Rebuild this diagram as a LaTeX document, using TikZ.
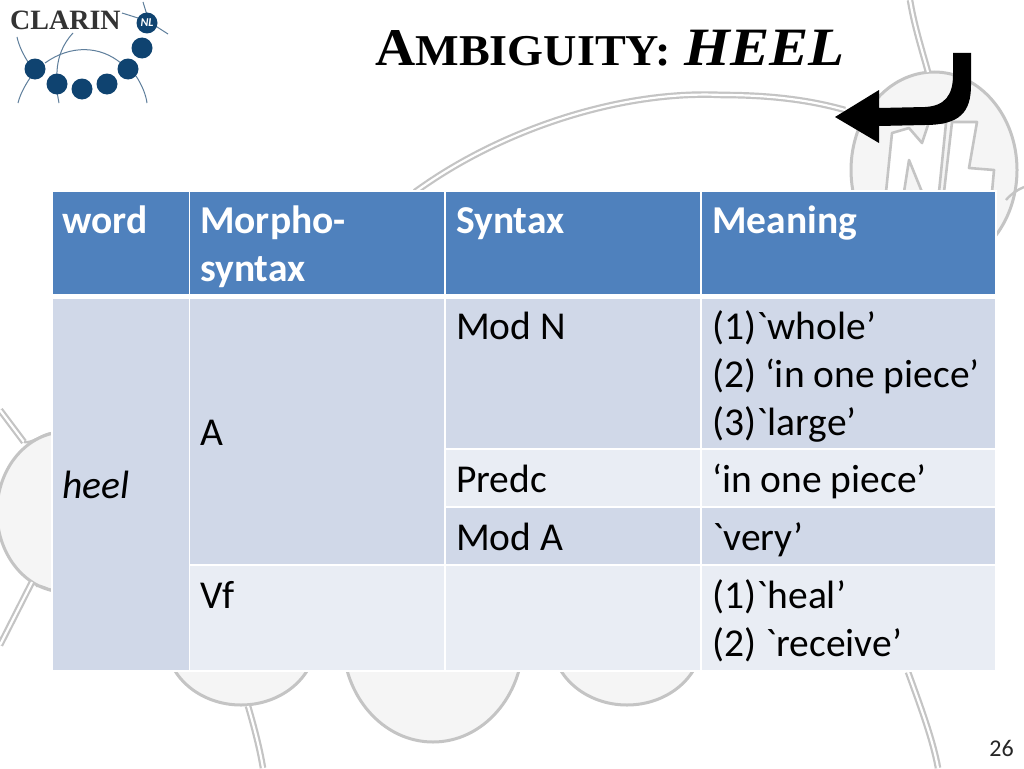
\documentclass[tikz,border=0pt]{standalone}
\usepackage{fontspec}
\newfontfamily\cellfont{Carlito}
\newfontfamily\titlefont{Liberation Serif}
\definecolor{hdr}{HTML}{4F81BD}
\definecolor{rowa}{HTML}{D0D8E8}
\definecolor{rowb}{HTML}{E9EDF4}
\definecolor{bgline}{HTML}{C4C4C4}
\definecolor{bgfill}{HTML}{F5F5F5}
\definecolor{logo}{HTML}{0F4370}
\definecolor{logoline}{HTML}{5F7F9C}
\tikzset{
 cellbox/.style={draw=white,line width=1.2pt},
 celltext/.style={anchor=base west,inner sep=0pt,font=\cellfont\fontsize{39.5}{48}\selectfont,align=left},
 headtext/.style={celltext,text=white,font=\cellfont\fontsize{39.5}{48}\selectfont\bfseries},
 bgwire/.style={draw=bgline,line width=7pt,double=white,double distance=2.2pt},
 bgthin/.style={draw=bgline,line width=2.4pt},
 bgball/.style={draw=bgline,line width=3pt,fill=bgfill},
 nlglyph/.style={draw=bgline,line width=2.6pt,fill=white,line join=round},
 bead/.style={circle,fill=logo,inner sep=0pt,minimum size=21pt},
 lwire/.style={draw=logoline,line width=1pt}
}
\begin{document}
\begin{tikzpicture}[x=1pt,y=-1pt]
\useasboundingbox (0,0) rectangle (1024,768);
\fill[white] (0,0) rectangle (1024,768);
% background
\draw[bgball] (934,170) ellipse (83 and 98);
\draw[bgwire,line width=2.2pt] (910,0) .. controls (914,25) and (922,50) .. (928,72);
\draw[bgwire,line width=2.2pt] (415,192) .. controls (500,130) and (620,90) .. (722,95) .. controls (770,95) and (810,100) .. (845,110);
\draw[nlglyph] (886,192) -- (892,133) -- (909,128) -- (922,143) -- (929,122) -- (946,123) -- (939,192) -- (922,192) -- (909,160) -- (904,192) -- cycle;
\draw[nlglyph] (952,122) -- (977,122) -- (969,168) -- (994,170) -- (992,192) -- (944,192) -- cycle;
\draw[bgthin] (1006,200) .. controls (1011,194) and (1017,190) .. (1024,187);
\draw[bgball] (65,512) ellipse (68 and 80);
\draw[bgwire,line width=2.2pt] (0,410) -- (24,442);
\draw[bgthin] (24,442) .. controls (32,444) and (42,434) .. (52,433);
\draw[bgwire,line width=2.2pt] (32,582) -- (0,645);
\draw[bgthin] (36,586) .. controls (42,585) and (46,589) .. (52,590);
\draw[bgball] (241,640) ellipse (75 and 65);
\draw[bgball] (433,640) ellipse (90 and 102);
\draw[bgball] (627,640) ellipse (75 and 65);
\draw[bgwire,line width=2.2pt] (248,706) .. controls (255,730) and (260,750) .. (263,768);
\draw[bgwire,line width=2.2pt] (908,672) .. controls (920,705) and (933,740) .. (938,768);
% logo
\draw[lwire] (17,37) .. controls (19,46) and (23,54) .. (28,62);
\draw[lwire] (18,103) .. controls (20,95) and (24,87) .. (30,78);
\draw[lwire] (45,63) .. controls (70,45) and (100,45) .. (122,64);
\draw[lwire] (73,33) .. controls (62,45) and (56,60) .. (57,80);
\draw[lwire] (57,92) -- (59,103);
\draw[lwire] (136,76) .. controls (142,85) and (146,95) .. (147,103);
\draw[lwire] (143,2) -- (147,15);
\draw[lwire] (122,13) -- (138,18);
\draw[lwire] (154,25) -- (168,34);
\node[bead] (b1) at (35,69) {};
\node[bead] (b2) at (57,84) {};
\node[bead] (b3) at (82,89) {};
\node[bead] (b4) at (107,84) {};
\node[bead] (b5) at (128,69) {};
\node[bead] (b6) at (142,48) {};
\node[circle,fill=logo,inner sep=0pt,minimum size=21pt,text=white,font=\cellfont\bfseries\itshape\fontsize{12}{12}\selectfont] (b7) at (147,23) {NL};
\node[anchor=base west,inner sep=0pt,text=black!80,font=\titlefont\bfseries\fontsize{28}{28}\selectfont] (clarin) at (10,30) {CLARIN};
% title
\node[anchor=base west,inner sep=0pt,font=\titlefont\bfseries] (title) at (375,65) {\scalebox{1.05}[1]{\fontsize{53}{53}\selectfont A\fontsize{44}{44}\selectfont MBIGUITY:}};
\node[anchor=base west,inner sep=0pt,font=\titlefont\bfseries\itshape] (heel) at (684,65) {\scalebox{1.09}[1]{\fontsize{54}{54}\selectfont HEEL}};
% arrow
\fill[black] (953,53) -- (971,53) -- (971,85) .. controls (971,112) and (960,125) .. (925,125) -- (879,126) -- (879,143) -- (835,117) -- (879,90) -- (879,108) -- (925,107) .. controls (945,106) and (953,95) .. (953,75) -- cycle;
% table
\path[cellbox,fill=hdr] (52,191) rectangle (189.5,295);
\path[cellbox,fill=hdr] (189.5,191) rectangle (445,295);
\path[cellbox,fill=hdr] (445,191) rectangle (701,295);
\path[cellbox,fill=hdr] (701,191) rectangle (996,295);
\path[cellbox,fill=rowa] (52,298) rectangle (189.5,671);
\path[cellbox,fill=rowa] (189.5,298) rectangle (445,565);
\path[cellbox,fill=rowb] (189.5,565) rectangle (445,671);
\path[cellbox,fill=rowa] (445,298) rectangle (701,449);
\path[cellbox,fill=rowa] (701,298) rectangle (996,449);
\path[cellbox,fill=rowb] (445,449) rectangle (701,507);
\path[cellbox,fill=rowb] (701,449) rectangle (996,507);
\path[cellbox,fill=rowa] (445,507) rectangle (701,565);
\path[cellbox,fill=rowa] (701,507) rectangle (996,565);
\path[cellbox,fill=rowb] (445,565) rectangle (701,671);
\path[cellbox,fill=rowb] (701,565) rectangle (996,671);
\node[headtext] (h1) at (62,233) {word};
\node[headtext] (h2) at (200,281) {Morpho-\\syntax};
\node[headtext] (h3) at (456,233) {Syntax};
\node[headtext] (h4) at (712,233) {Meaning};
\node[celltext] (w) at (62,498) {\itshape heel};
\node[celltext] (a) at (200,445) {A};
\node[celltext] (vf) at (200,608) {Vf};
\node[celltext] (s1) at (456,339) {Mod N};
\node[celltext] (s2) at (456,492) {Predc};
\node[celltext] (s3) at (456,550) {Mod A};
\node[celltext] (m1) at (712,435) {(1)`whole’\\(2) ‘in one piece’\\(3)`large’};
\node[celltext] (m2) at (712,492) {‘in one piece’};
\node[celltext] (m3) at (712,550) {`very’};
\node[celltext] (m4) at (712,656) {(1)`heal’\\(2) `receive’};
\node[anchor=base east,inner sep=0pt,font=\cellfont\fontsize{24}{24}\selectfont,text=black!85] (pg) at (1014,756) {26};
\end{tikzpicture}
\end{document}
